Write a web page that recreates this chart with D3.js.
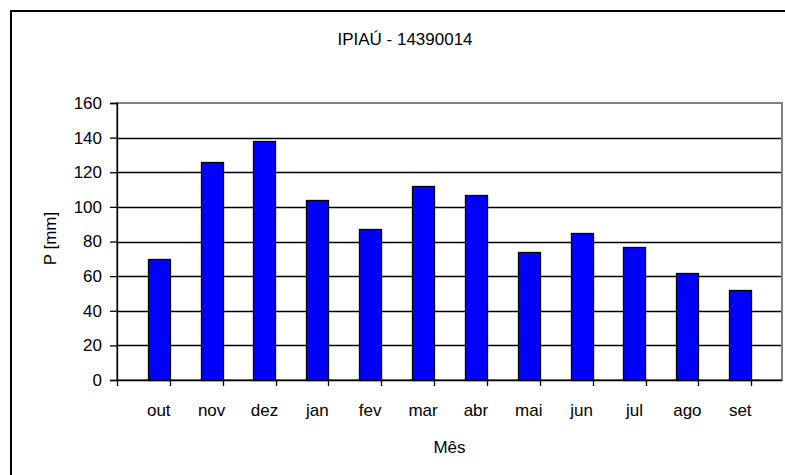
<!DOCTYPE html>
<html><head><meta charset="utf-8">
<script src="https://cdn.jsdelivr.net/npm/d3@7"></script>
<style>
html,body{margin:0;padding:0;background:#fff;}
svg{display:block;}
text{font-family:"Liberation Sans",Arial,sans-serif;fill:#000;}
</style></head>
<body>
<script>
const months = ["out","nov","dez","jan","fev","mar","abr","mai","jun","jul","ago","set"];
const precip = [70,126,138,104,87,112,107,74,85,77,62,52];
const yTicks = [0,20,40,60,80,100,120,140,160];
const title = "IPIAÚ - 14390014";
const xTitle = "Mês";
const yTitle = "P [mm]";

const W = 785, H = 475;
const plot = {left:117, right:782, top:103, bottom:380};
const FS = 17;

const svg = d3.select("body").append("svg").attr("width",W).attr("height",H);

// outer chart border (extends beyond the window on right/bottom)
svg.append("rect").attr("x",11).attr("y",11).attr("width",W+20).attr("height",H+20)
  .attr("fill","#fff").attr("stroke","#000").attr("stroke-width",2);

const x = d3.scaleBand().domain(months).range([plot.left,plot.right]).padding(0.58);
const y = d3.scaleLinear().domain([0,160]).range([plot.bottom,plot.top]);

// plot area border (gray)
svg.append("rect").attr("x",plot.left).attr("y",plot.top)
  .attr("width",plot.right-plot.left).attr("height",plot.bottom-plot.top)
  .attr("fill","#fff").attr("stroke","#808080").attr("stroke-width",2);

// gridlines
svg.append("g").selectAll("line").data(yTicks.filter(d=>d>0 && d<160)).join("line")
  .attr("x1",plot.left).attr("x2",plot.right-1)
  .attr("y1",d=>Math.round(y(d))+0.5).attr("y2",d=>Math.round(y(d))+0.5)
  .attr("stroke","#000").attr("stroke-width",1.3);

// bars
svg.append("g").selectAll("rect").data(months).join("rect")
  .attr("x",d=>Math.round(x(d))+0.5)
  .attr("y",(d,i)=>Math.round(y(precip[i]))+0.5)
  .attr("width",Math.round(x.bandwidth()))
  .attr("height",(d,i)=>Math.round(y(0))-Math.round(y(precip[i])))
  .attr("fill","#0000FF").attr("stroke","#000").attr("stroke-width",1.3);

// y axis
const yAxis = svg.append("g").attr("transform",`translate(${plot.left},0)`)
  .call(d3.axisLeft(y).tickValues(yTicks).tickSize(7).tickPadding(8).tickFormat(d3.format("d")));
yAxis.select(".domain").attr("stroke","#000").attr("stroke-width",1.3);
yAxis.selectAll(".tick line").attr("stroke","#000").attr("stroke-width",1.3);
yAxis.selectAll(".tick text").attr("font-size",FS).attr("font-family","Liberation Sans, Arial, sans-serif").attr("fill","#000");

// x axis: labels centered in bands, ticks at category boundaries
const xAxis = svg.append("g").attr("transform",`translate(0,${plot.bottom})`)
  .call(d3.axisBottom(x).tickSize(0).tickPadding(24));
xAxis.select(".domain").attr("d",`M${plot.left},0.5H${plot.right}`).attr("stroke","#000").attr("stroke-width",1.3);
xAxis.selectAll(".tick text").attr("font-size",FS).attr("font-family","Liberation Sans, Arial, sans-serif").attr("fill","#000");
const step = x.step();
const bounds = d3.range(months.length+1).map(i=>plot.left + i*step);
xAxis.selectAll("line.bt").data(bounds).join("line").attr("class","bt")
  .attr("x1",d=>Math.round(d)+0.5).attr("x2",d=>Math.round(d)+0.5)
  .attr("y1",0).attr("y2",6).attr("stroke","#000").attr("stroke-width",1.3);

// titles
svg.append("text").attr("x",405).attr("y",45).attr("text-anchor","middle")
  .attr("font-size",FS).text(title);
svg.append("text").attr("x",(plot.left+plot.right)/2).attr("y",453).attr("text-anchor","middle")
  .attr("font-size",FS).text(xTitle);
svg.append("text").attr("transform",`translate(56,${(plot.top+plot.bottom)/2 - 3}) rotate(-90)`)
  .attr("text-anchor","middle").attr("font-size",FS).text(yTitle);
</script>
</body></html>
